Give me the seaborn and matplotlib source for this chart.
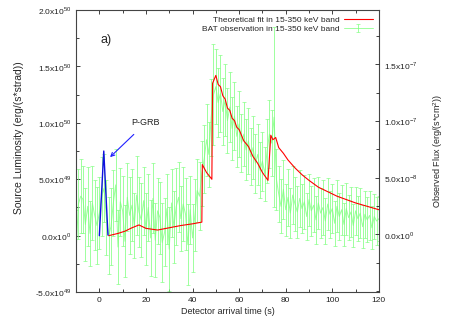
import numpy as np
import seaborn as sns
import matplotlib
matplotlib.use('Agg')
import matplotlib.pyplot as plt
from matplotlib.ticker import MultipleLocator

# observed BAT light curve (units of 1e49 erg/(s*strad)), 1 s bins from -10 to 120 s
obs_t = np.arange(-10, 121)
obs_v = [-1.5, 2.8, 3.5, 3.2, 1.0, 2.6, 0.2, 2.9, 1.8, 0.9,
         2.0, 3.5, 4.2, 1.6, 0.0, 0.8, 2.9, 4.5, -1.0, 3.0,
         2.2, -0.5, 3.4, 1.8, 2.7, 0.9, 3.6, 2.1, 1.4, 3.1,
         0.6, 2.5, -0.2, 3.3, -0.4, 2.2, 1.6, -0.6, 0.3, 2.4,
         -1.2, 2.9, 0.8, 2.6, 3.4, 1.5, 2.8, 1.9, -0.8, 2.3,
         -0.2, 1.8, 4.0, 3.5, 5.5, 6.8, 8.5, 7.2, 10.5, 12.5,
         13.2, 11.8, 12.6, 11.0, 12.0, 10.2, 11.4, 9.5, 10.6, 8.8,
         9.9, 8.2, 9.0, 7.6, 8.4, 7.0, 7.8, 6.4, 7.2, 5.8,
         6.6, 5.5, 7.5, 9.0, 8.2, 10.5, 5.0, 3.7, 2.6, 4.1,
         2.3, 3.4, 2.0, 3.6, 2.8, 2.1, 3.3, 2.4, 3.0, 1.7,
         3.2, 2.2, 2.7, 1.4, 2.9, 2.0, 2.5, 1.3, 2.8, 1.9,
         2.4, 1.1, 2.6, 1.7, 2.3, 1.0, 2.4, 1.6, 2.1, 0.9,
         2.2, 1.5, 2.0, 0.8, 1.9, 1.4, 1.8, 0.7, 1.7, 1.3, 1.5]
obs_err = [3.8, 3.1, 3.3, 3.0, 3.2, 3.5, 2.9, 3.3, 3.1, 3.4,
           3.2, 3.5, 3.0, 3.3, 3.4, 3.4, 2.9, 3.2, 3.3, 3.0,
           3.1, 3.2, 3.0, 3.4, 3.2, 2.9, 3.5, 3.1, 3.3, 3.0,
           3.2, 3.0, 3.4, 3.1, 3.3, 2.9, 3.2, 3.5, 3.0, 3.1,
           3.7, 3.0, 3.2, 3.4, 3.1, 2.9, 3.3, 3.2, 3.6, 3.0,
           3.0, 3.2, 2.8, 3.0, 2.9, 3.0, 3.2, 2.9, 3.4, 4.5,
           3.3, 3.1, 3.4, 3.0, 3.2, 2.9, 3.1, 2.8, 3.0, 2.7,
           2.9, 2.6, 2.8, 2.7, 2.9, 2.5, 2.8, 2.6, 2.7, 2.5,
           2.6, 2.4, 2.8, 3.0, 2.9, 8.0, 2.7, 2.5, 2.4, 2.6,
           2.3, 2.5, 2.2, 2.6, 2.4, 2.3, 2.5, 2.2, 2.4, 2.1,
           2.3, 2.2, 2.4, 2.1, 2.3, 2.2, 2.4, 2.0, 2.3, 2.1,
           2.2, 2.0, 2.3, 2.1, 2.2, 1.9, 2.3, 2.0, 2.2, 1.9,
           2.1, 2.0, 2.2, 1.9, 2.1, 2.0, 2.2, 1.9, 2.0, 2.1, 2.0]

# theoretical fit (units of 1e49)
fit_t = [4, 8, 11, 14, 17, 20, 25, 30, 35, 40, 44, 44.2, 46, 48.3, 48.6,
         50, 51, 52, 53, 54, 55, 56, 57, 58, 59, 60, 62, 64, 66, 68,
         70, 72.4, 73.6, 74.5, 75.7, 77, 79, 81, 84, 87, 90, 94, 98, 102, 106,
         110, 115, 120]
fit_v = [0.0, 0.2, 0.4, 0.7, 0.95, 0.65, 0.5, 0.7, 0.9, 1.05, 1.2, 6.3, 5.6, 5.0, 13.5,
         14.2, 13.4, 13.2, 12.4, 12.1, 11.3, 11.1, 10.4, 10.2, 9.6, 9.4, 8.4, 7.9, 7.0, 6.4,
         5.6, 4.9, 8.9, 8.5, 8.7, 7.8, 7.3, 6.7, 6.0, 5.4, 4.9, 4.3, 3.9, 3.5, 3.2,
         2.9, 2.6, 2.3]

# P-GRB spike
pgrb_t = [0, 1.9, 3.7]
pgrb_v = [0.0, 7.5, 0.05]

left_ticks = [-5e49, 0, 5e49, 1e50, 1.5e50, 2e50]
left_labels = ['-5.0x10$^{49}$', '0.0x10$^{0}$', '5.0x10$^{49}$',
               '1.0x10$^{50}$', '1.5x10$^{50}$', '2.0x10$^{50}$']
right_ticks = [0, 5e-8, 1e-7, 1.5e-7]
right_labels = ['0.0x10$^{0}$', '5.0x10$^{-8}$', '1.0x10$^{-7}$', '1.5x10$^{-7}$']

sns.set_style('ticks')
plt.rcParams['font.family'] = ['Liberation Sans', 'DejaVu Sans']
plt.rcParams['mathtext.fontset'] = 'custom'
plt.rcParams['mathtext.rm'] = 'Liberation Sans'

fig = plt.figure(figsize=(4.5, 3.21), dpi=100)
ax = fig.add_axes([0.169, 0.090, 0.673, 0.879])

scale = 1e49
green = '#7dff7d'
ax.errorbar(obs_t, np.array(obs_v) * scale, yerr=np.array(obs_err) * scale,
            color=green, ecolor=green, lw=0.7, elinewidth=0.7, capsize=1.5,
            capthick=0.6, alpha=0.75, zorder=2,
            label='BAT observation in 15-350 keV band')
sns.lineplot(x=fit_t, y=np.array(fit_v) * scale, color='red', lw=0.8,
             estimator=None, sort=False, ax=ax, zorder=3,
             label='Theoretical fit in 15-350 keV band')
sns.lineplot(x=pgrb_t, y=np.array(pgrb_v) * scale, color='#1010e0', lw=1.0,
             estimator=None, sort=False, ax=ax, zorder=4, legend=False)

ax.set_xlim(-10, 120)
ax.set_ylim(-5e49, 2e50)
ax.xaxis.set_major_locator(MultipleLocator(20))
ax.xaxis.set_minor_locator(MultipleLocator(10))
ax.set_yticks(left_ticks)
ax.set_yticklabels(left_labels)
ax.yaxis.set_minor_locator(MultipleLocator(2.5e49))
ax.tick_params(which='both', direction='in', top=True, right=False,
               labelsize=6, width=0.6, colors='#222222')
ax.tick_params(which='major', length=3)
ax.tick_params(which='minor', length=2)
for s in ax.spines.values():
    s.set_linewidth(0.8)
    s.set_color('#444444')

ax.set_xlabel('Detector arrival time (s)', fontsize=6.5, labelpad=2)
ax.set_ylabel('Source Luminosity (erg/(s*strad))', fontsize=7.5)
ax.yaxis.set_label_coords(-0.172, 0.548)

ax2 = ax.twinx()
ax2.set_ylim(-5.1e-8, 1.98e-7)
ax2.set_yticks(right_ticks)
ax2.set_yticklabels(right_labels)
ax2.yaxis.set_minor_locator(MultipleLocator(2.5e-8))
ax2.tick_params(which='both', direction='in', labelsize=6, width=0.6, colors='#222222')
ax2.tick_params(which='major', length=3)
ax2.tick_params(which='minor', length=2)
ax2.set_ylabel('Observed Flux (erg/(s*cm$^2$))', fontsize=6.5)
ax2.yaxis.set_label_coords(1.172, 0.5)
for s in ax2.spines.values():
    s.set_visible(False)

ax.text(3, 1.73e50, 'a)', fontsize=9, ha='center', va='center')
ax.annotate('P-GRB', xy=(4.6, 6.96e49), xytext=(20, 1.0e50), fontsize=6.5,
            ha='center', va='center', color='#222222',
            arrowprops=dict(arrowstyle='->', color='#2020ff', lw=0.8,
                            shrinkA=4, shrinkB=0))

handles, labels = ax.get_legend_handles_labels()
order = [labels.index('Theoretical fit in 15-350 keV band'),
         labels.index('BAT observation in 15-350 keV band')]
ax.legend([handles[i] for i in order], [labels[i] for i in order],
          loc='upper right', frameon=False, markerfirst=False, fontsize=6,
          handlelength=3.5, borderaxespad=0.3, labelspacing=0.15,
          handletextpad=0.5)

fig.savefig('out.png', dpi=100)
